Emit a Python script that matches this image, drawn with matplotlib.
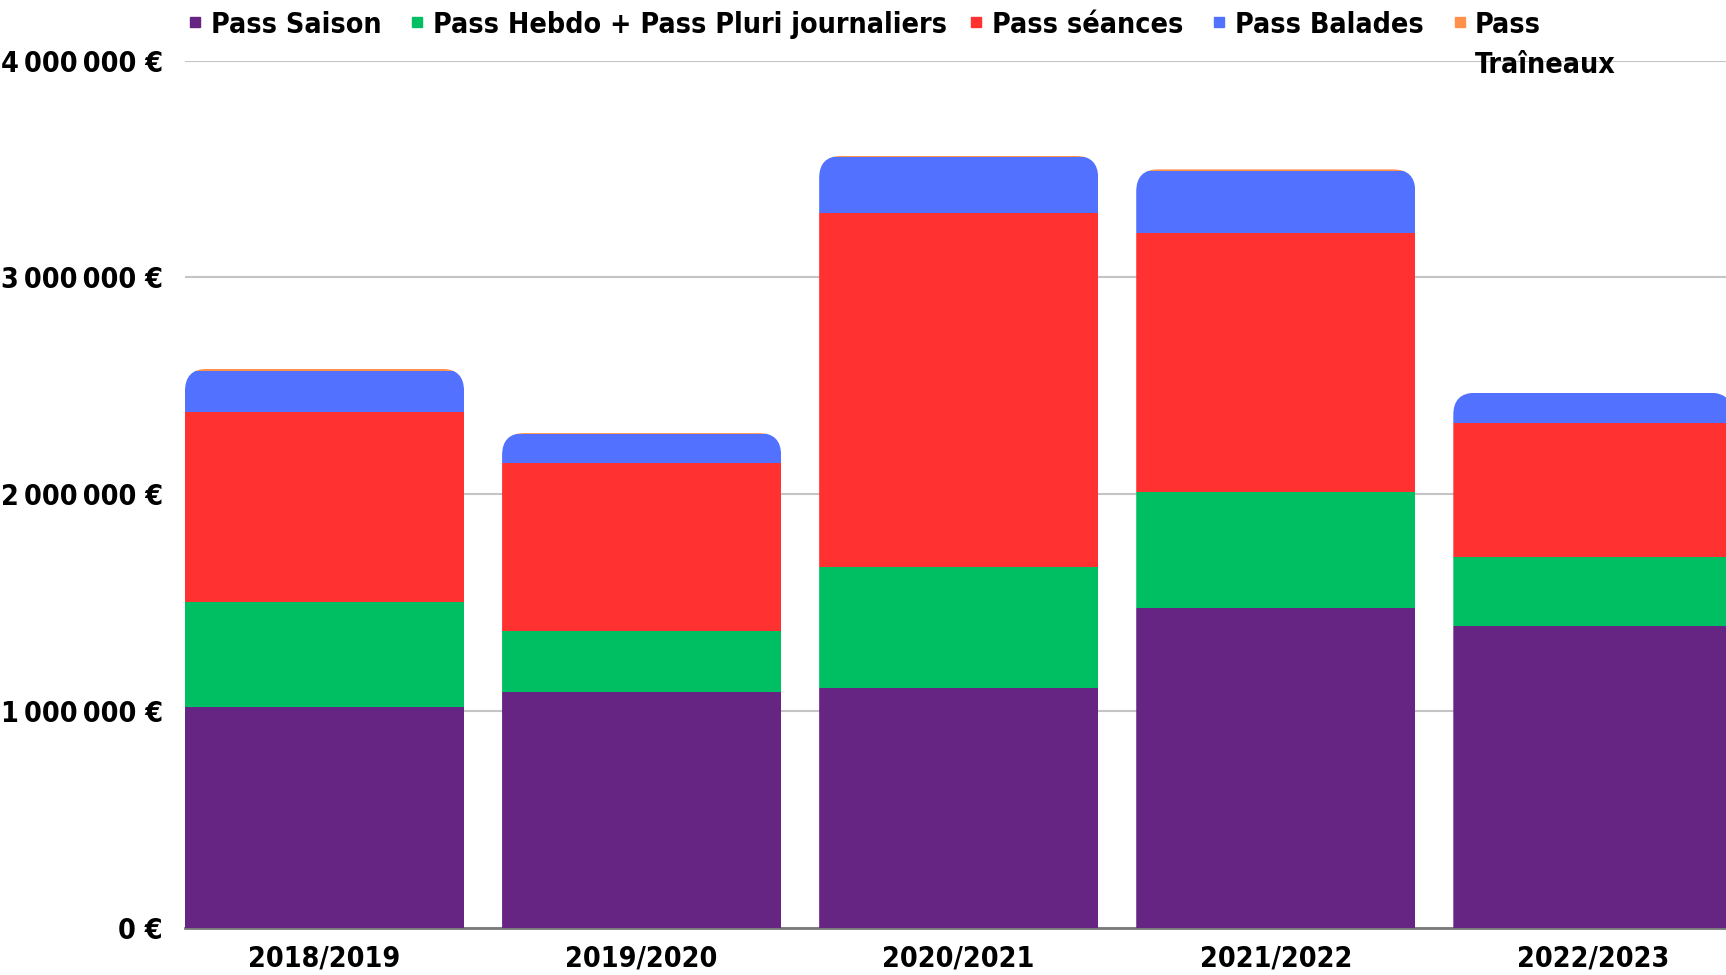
# Recettes par type de forfait et par saison
import numpy as np
import matplotlib
matplotlib.use("Agg")
import matplotlib.pyplot as plt
from matplotlib.patches import FancyBboxPatch
from matplotlib.lines import Line2D
from matplotlib.transforms import IdentityTransform

saisons = ['2018/2019', '2019/2020', '2020/2021', '2021/2022', '2022/2023']
pass_saison = [1020000, 1086000, 1107000, 1477000, 1391000]
pass_hebdo = [483000, 285000, 558000, 533000, 320000]
pass_seances = [878000, 771000, 1634000, 1193000, 619000]
pass_balades = [188000, 137000, 254000, 286000, 135000]
pass_traineaux = [9000, 3000, 7000, 9000, 3000]

noms = ['Pass Saison', 'Pass Hebdo + Pass Pluri journaliers', 'Pass séances',
        'Pass Balades', 'Pass Traîneaux']
couleurs = ['#662483', '#00BF63', '#FF3131', '#5271FF', '#FF914D']

y_ticks = [0, 1000000, 2000000, 3000000, 4000000]
y_labels = ['0 €', '1\u2009000\u2009000 €', '2\u2009000\u2009000 €',
            '3\u2009000\u2009000 €', '4\u2009000\u2009000 €']

plt.rcParams['font.family'] = ['DejaVu Sans']
plt.rcParams['font.weight'] = 'bold'
plt.rcParams['font.stretch'] = 'condensed'

W, H = 1726, 975
fig = plt.figure(figsize=(W / 100, H / 100), dpi=100)
ax = fig.add_axes([185 / W, 1 - 928 / H, 1 - 185 / W, (928 - 60.5) / H])

x = np.arange(len(saisons))
largeur = 0.88
ax.set_xlim(-0.44, 4.42)
ax.set_ylim(0, 4000000)

series = [pass_saison, pass_hebdo, pass_seances, pass_balades, pass_traineaux]
bas = np.zeros(len(saisons))
barres = []
for vals, c in zip(series, couleurs):
    b = ax.bar(x, vals, largeur, bottom=bas, color=c, linewidth=0, zorder=2)
    barres.append(b)
    bas = bas + np.array(vals)

# coins arrondis en haut de chaque pile
for i in range(len(saisons)):
    x0, y0 = ax.transData.transform((x[i] - largeur / 2, 0))
    x1, y1 = ax.transData.transform((x[i] + largeur / 2, bas[i]))
    clip = FancyBboxPatch((x0, y0 - 80), x1 - x0, y1 - y0 + 80,
                          boxstyle='round,pad=0,rounding_size=22',
                          transform=IdentityTransform())
    for b in barres:
        b[i].set_clip_path(clip)

ax.set_yticks(y_ticks)
ax.set_yticklabels(y_labels)
ax.set_xticks(x)
ax.set_xticklabels(saisons)
ax.tick_params(axis='y', length=0, pad=16, labelsize=20.5)
ax.tick_params(axis='x', length=0, pad=12, labelsize=20.5)
ax.yaxis.grid(True, color='#c4c4c4', linewidth=1.5)
ax.set_axisbelow(True)
ax.axhline(0, color='#7a7a7a', linewidth=2, zorder=1, clip_on=False)
for s in ax.spines.values():
    s.set_visible(False)

# légende
carre_x = [195, 417, 976, 1219, 1460]
texte_x = [211, 433, 992, 1235, 1475]
for nom, c, cx, tx in zip(noms, couleurs, carre_x, texte_x):
    fig.add_artist(Line2D([cx / W], [1 - 22 / H], marker='s', markersize=7.5,
                          color=c, linestyle='none', transform=fig.transFigure))
    label = nom.replace(' ', '\n') if nom == 'Pass Traîneaux' else nom
    fig.text(tx / W, 1 - 11 / H, label, ha='left', va='top', fontsize=20.5,
             linespacing=1.55)

fig.savefig('out.png', dpi=100)
